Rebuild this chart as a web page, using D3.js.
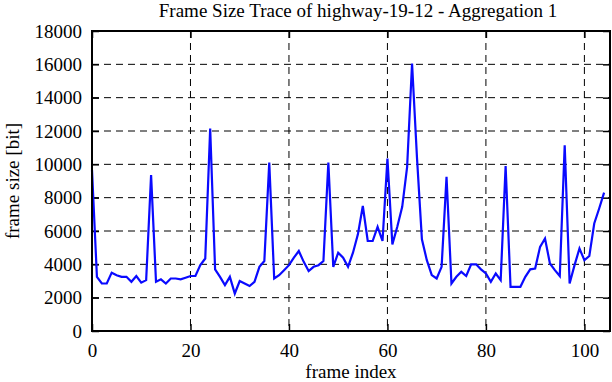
<!DOCTYPE html>
<html>
<head>
<meta charset="utf-8">
<script src="https://cdn.jsdelivr.net/npm/d3@7"></script>
<style>
  body { margin: 0; background: #fff; }
  text { font-family: "Liberation Serif", "DejaVu Serif", serif; }
</style>
</head>
<body>
<script>
// frame sizes in bit, one per frame index 0..104
const frameSize = [
  9650, 3250, 2850, 2850, 3500, 3350, 3250, 3250, 2950, 3300,
  2900, 3050, 9350, 2950, 3100, 2850, 3150, 3150, 3100, 3200,
  3300, 3300, 3950, 4350, 12150, 3700, 3250, 2750, 3250, 2250,
  3000, 2850, 2700, 2950, 3850, 4200, 10100, 3150, 3350, 3650,
  3950, 4400, 4800, 4150, 3600, 3850, 3950, 4200, 10100, 3850,
  4700, 4400, 3850, 4700, 5800, 7500, 5400, 5400, 6250, 5400,
  10350, 5200, 6250, 7450, 9850, 16050, 10400, 5500, 4250, 3350,
  3150, 3850, 9250, 2850, 3250, 3550, 3300, 4000, 4000, 3700,
  3450, 2950, 3450, 3050, 9900, 2650, 2650, 2650, 3250, 3700,
  3750, 5050, 5550, 4050, 3650, 3300, 11150, 2850, 3950, 4950,
  4250, 4500, 6450, 7350, 8300
];
const frameIndex = frameSize.map((d, i) => i);

const xTicks = [0, 20, 40, 60, 80, 100];
const yTicks = [0, 2000, 4000, 6000, 8000, 10000, 12000, 14000, 16000, 18000];

const titleText = "Frame Size Trace of highway-19-12 - Aggregation 1";

const w = 612;
const h = 382;
const margin = {top: 31, right: 2, bottom: 51, left: 92};
const pw = w - margin.left - margin.right;
const ph = h - margin.top - margin.bottom;

const svg = d3.select("body")
  .append("svg")
  .attr("width", w)
  .attr("height", h);

const x = d3.scaleLinear().domain([0, 105.2]).range([0, pw]);
const y = d3.scaleLinear().domain([0, 18000]).range([ph, 0]);

const g = svg.append("g")
  .attr("transform", `translate(${margin.left},${margin.top})`);

// dashed grid
g.selectAll(".gx")
  .data(xTicks.filter(d => d > 0))
  .join("line")
  .attr("x1", d => x(d)).attr("x2", d => x(d))
  .attr("y1", 0).attr("y2", ph)
  .attr("stroke", "#000")
  .attr("stroke-width", 1)
  .attr("stroke-dasharray", "7,5");

g.selectAll(".gy")
  .data(yTicks.filter(d => d > 0 && d < 18000))
  .join("line")
  .attr("x1", 0).attr("x2", pw)
  .attr("y1", d => y(d)).attr("y2", d => y(d))
  .attr("stroke", "#000")
  .attr("stroke-width", 1)
  .attr("stroke-dasharray", "7,5");

// axes with inward ticks
const fs = 19;
const fmt = d3.format("d");
g.append("g")
  .attr("transform", `translate(0,${ph})`)
  .call(d3.axisBottom(x).tickValues(xTicks).tickFormat(fmt).tickSizeInner(-7).tickSizeOuter(0).tickPadding(13));
g.append("g")
  .call(d3.axisLeft(y).tickValues(yTicks).tickFormat(fmt).tickSizeInner(-7).tickSizeOuter(0).tickPadding(10));
g.append("g")
  .call(d3.axisTop(x).tickValues(xTicks).tickSizeInner(-7).tickSizeOuter(0).tickFormat(""));
g.append("g")
  .attr("transform", `translate(${pw},0)`)
  .call(d3.axisRight(y).tickValues(yTicks).tickSizeInner(-7).tickSizeOuter(0).tickFormat(""));

svg.selectAll(".domain").remove();
svg.selectAll(".tick line").attr("stroke", "#000").attr("stroke-width", 1.5);
svg.selectAll(".tick text")
  .style("font-family", '"Liberation Serif", serif')
  .style("font-size", fs + "px")
  .attr("fill", "#000");

// data line
const line = d3.line()
  .x((d, i) => x(frameIndex[i]))
  .y(d => y(d));

g.append("path")
  .datum(frameSize)
  .attr("d", line)
  .attr("fill", "none")
  .attr("stroke", "#0a0aff")
  .attr("stroke-width", 2.2)
  .attr("stroke-linejoin", "miter");

// border
g.append("rect")
  .attr("x", 0).attr("y", 0)
  .attr("width", pw).attr("height", ph)
  .attr("fill", "none")
  .attr("stroke", "#000")
  .attr("stroke-width", 2);

// labels
svg.append("text")
  .attr("x", 358)
  .attr("y", 17)
  .attr("text-anchor", "middle")
  .style("font-size", fs + "px")
  .text(titleText);

svg.append("text")
  .attr("x", margin.left + pw / 2)
  .attr("y", 378)
  .attr("text-anchor", "middle")
  .style("font-size", fs + "px")
  .text("frame index");

svg.append("text")
  .attr("transform", `translate(19,${margin.top + ph / 2}) rotate(-90)`)
  .attr("text-anchor", "middle")
  .style("font-size", fs + "px")
  .text("frame size [bit]");
</script>
</body>
</html>
